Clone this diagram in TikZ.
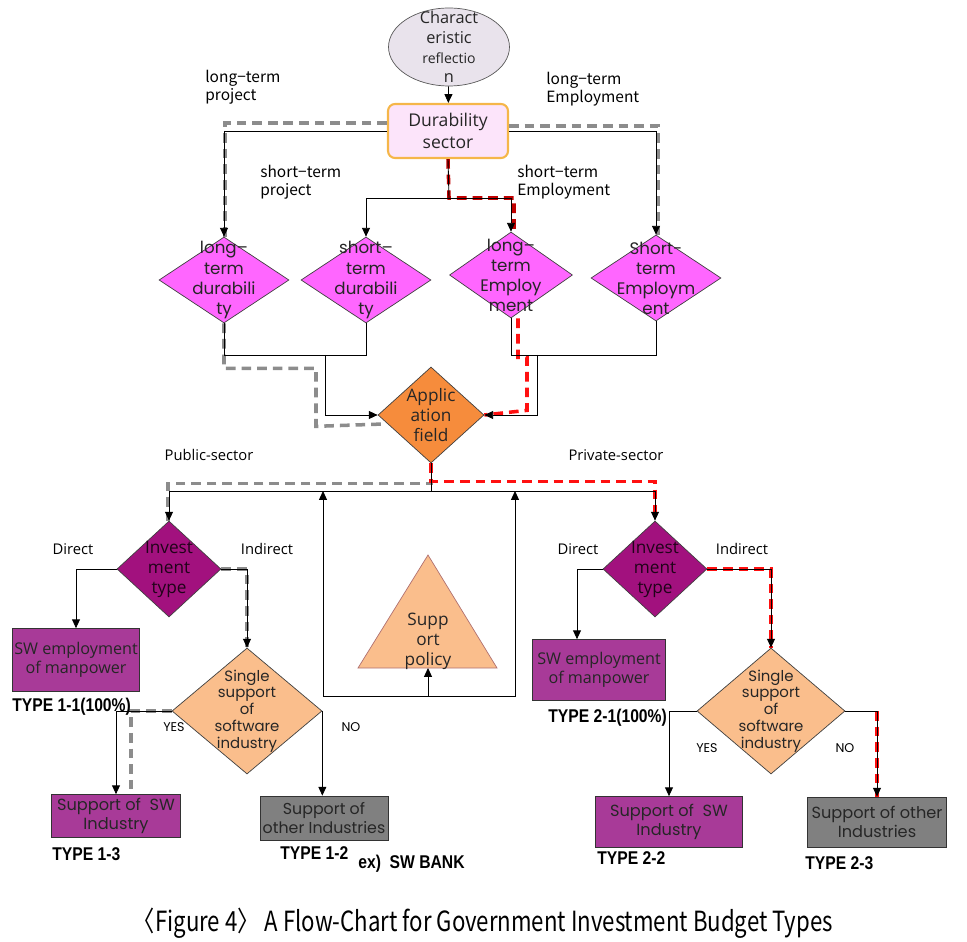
\documentclass[tikz,border=0pt]{standalone}
\usepackage{fontspec}
\setmainfont{Open Sans}
\newfontfamily\gothic{Poppins}
\newfontfamily\gulim{Noto Sans CJK KR}
\newfontfamily\typefont[FakeStretch=0.85]{Liberation Sans}
\newfontfamily\capfont[FakeStretch=0.8]{Noto Sans CJK KR}
\definecolor{charfill}{RGB}{233, 227, 236}
\definecolor{durfill}{RGB}{252, 228, 250}
\definecolor{durline}{RGB}{245, 182, 73}
\definecolor{magdia}{RGB}{255, 102, 255}
\definecolor{appfill}{RGB}{246, 140, 60}
\definecolor{invfill}{RGB}{162, 17, 126}
\definecolor{swfill}{RGB}{168, 58, 152}
\definecolor{ssfill}{RGB}{250, 190, 140}
\definecolor{polline}{RGB}{176, 112, 112}
\definecolor{othfill}{RGB}{128, 128, 128}
\definecolor{pathgray}{RGB}{140, 140, 140}
\definecolor{pathred}{RGB}{255, 16, 16}
\definecolor{darkred}{RGB}{192, 0, 0}
\usetikzlibrary{shapes.geometric, arrows.meta, positioning, calc}

\begin{document}
\begin{tikzpicture}[x=0.02cm, y=-0.02cm,
  arr/.style={-{Triangle[length=5pt,width=4.5pt]}, line width=0.5pt},
  plain/.style={line width=0.5pt},
  grayway/.style={draw=pathgray, line width=2pt, dash pattern=on 5.5pt off 3.4pt},
  redway/.style={draw=pathred, line width=2pt, dash pattern=on 5.5pt off 3.4pt},
  ddia/.style={diamond, draw=black!75, inner sep=0pt, minimum width=2.6cm, minimum height=1.72cm},
  dtext/.style={align=center, inner sep=0pt, text=black!85, font=\gothic\fontsize{9.5}{11.4}\selectfont},
  itext/.style={align=center, inner sep=0pt, text=black!85, font=\fontsize{9.8}{11.4}\selectfont},
  stext/.style={align=center, inner sep=0pt, text=black!85, font=\gothic\fontsize{8.5}{9.6}\selectfont},
  box/.style={rectangle, draw=black!80, inner sep=0pt, align=center, text=black!85},
  lbl/.style={anchor=west, inner sep=0pt, align=left, font=\gulim\fontsize{8.8}{10.5}\selectfont},
  side/.style={inner sep=0pt, font=\fontsize{8.4}{10}\selectfont},
  yn/.style={inner sep=0pt, font=\gothic\fontsize{7.2}{9}\selectfont},
  typelbl/.style={anchor=west, inner sep=0pt, font=\typefont\bfseries\fontsize{10.5}{12}\selectfont}
]
  \useasboundingbox (0,0) rectangle (967,942);

  % top of the chart
  \node[ellipse, draw=black!65, fill=charfill, minimum width=2.42cm, minimum height=1.56cm,
    label={[align=center, inner sep=0pt, text=black!85, font=\fontsize{9.3}{11.3}\selectfont]center:Charact\\eristic\\{\fontsize{8}{9}\selectfont reflectio}\\n}] (char) at (449,47) {};
  \node[box, rounded corners=4pt, draw=durline, line width=1.2pt, fill=durfill,
    minimum width=2.4cm, minimum height=1.08cm, font=\fontsize{10}{12.5}\selectfont] (dur) at (448,131) {Durability\\sector};

  \node[lbl] (ltp) at (205,87) {long−term\\project};
  \node[lbl] (lte) at (546,89) {long−term\\Employment};
  \node[lbl] (stp) at (260,182) {short−term\\project};
  \node[lbl] (ste) at (517,182) {short−term\\Employment};

  \node[ddia, fill=magdia, label={[dtext]center:long–\\term\\durabili\\ty}] (d1) at (224,280) {};
  \node[ddia, fill=magdia, label={[dtext]center:short–\\term\\durabili\\ty}] (d2) at (366,280) {};
  \node[ddia, fill=magdia, minimum width=2.46cm, label={[dtext]center:long–\\term\\Employ\\ment}] (d3) at (511,275) {};
  \node[ddia, fill=magdia, minimum width=2.6cm, label={[dtext]center:Short-\\term\\Employm\\ent}] (d4) at (656,278) {};

  \node[ddia, fill=appfill, minimum width=2.12cm, minimum height=1.92cm,
    label={[itext]center:Applic\\ation\\field}] (app) at (431,415) {};

  \coordinate (durfork) at (449,198);
  \coordinate (lmerge) at (325,355);
  \coordinate (rmerge) at (537,355);

  \draw[grayway] ($(dur.west)+(0,-8)$) -| ($(d1.north)+(1,0)$);
  \draw[grayway] ($(dur.east)+(0,-5)$) -| ($(d4.north)+(2,0)$);
  \draw[redway, draw=darkred] (dur.south) -- (durfork) -| ($(d3.north)+(3,0)$);
  \draw[grayway] (d1.south) -- ++(0,45) -| ++(92,58) -- ($(app.west)+(6,9)$);
  \draw[redway] ($(d3.south)+(7,0)$) -- ++(0,39) -| ++(9,53) -- (app.east);

  \draw[arr] (char) -- (dur);
  \draw[arr] (dur.west) -| (d1.north);
  \draw[arr] (dur.east) -| (d4.north);
  \draw[plain] (dur.south) -- (durfork);
  \draw[arr] (durfork) -| (d2.north);
  \draw[arr] (durfork) -| (d3.north);
  \draw[plain] (d1.south) -- (d1.south |- lmerge) -- (d2.south |- lmerge) -- (d2.south);
  \draw[arr] (lmerge) |- (app.west);
  \draw[plain] (d3.south) -- (d3.south |- rmerge) -- (d4.south |- rmerge) -- (d4.south);
  \draw[arr] (rmerge) |- (app.east);

  % public and private branches
  \node[side] (pub) at (209,455) {Public-sector};
  \node[side] (priv) at (616,455) {Private-sector};

  \node[ddia, fill=invfill, minimum width=2.08cm, minimum height=1.92cm,
    label={[itext, text=black!80!invfill]center:Invest\\ment\\type}] (invL) at (169,569) {};
  \node[ddia, fill=invfill, minimum width=2.08cm, minimum height=1.92cm,
    label={[itext, text=black!80!invfill]center:Invest\\ment\\type}] (invR) at (655,569) {};

  \filldraw[fill=ssfill, draw=polline] (428,555) -- (497,668) -- (358,668) -- cycle;
  \node[itext] (pol) at (428,641) {Supp\\ort\\policy};
  \coordinate (polbase) at (428,668);
  \coordinate (polfoot) at (428,696);
  \coordinate (split) at (431,491);
  \coordinate (pubup) at (323,491);
  \coordinate (privup) at (515,491);

  \draw[grayway] (app.south) -- ++(0,20) -| ($(invL.north)+(-1,0)$);
  \draw[redway] (app.south) -- ++(0,18) -| (invR.north);

  \draw[plain] (app.south) -- (split);
  \draw[arr] (split) -| (invL.north);
  \draw[arr] (split) -| (invR.north);
  \draw[arr] (polfoot) -- (polbase);
  \draw[arr] (polfoot) -| (pubup);
  \draw[arr] (polfoot) -| (privup);

  \node[side] (dirL) at (73,549) {Direct};
  \node[side] (indL) at (267,549) {Indirect};
  \node[side] (dirR) at (578,549) {Direct};
  \node[side] (indR) at (742,549) {Indirect};

  \node[box, fill=swfill, minimum width=2.54cm, minimum height=1.26cm,
    font=\fontsize{9.2}{11}\selectfont] (swL1) at (76,660) {SW employment\\of manpower};
  \node[box, fill=swfill, minimum width=2.66cm, minimum height=1.22cm,
    font=\fontsize{9.2}{11}\selectfont] (swR1) at (599,670) {SW employment\\of manpower};

  \node[ddia, fill=ssfill, minimum width=3cm, minimum height=2.52cm,
    label={[stext]center:Single\\support\\of\\software\\industry}] (ssL) at (247,711) {};
  \node[ddia, fill=ssfill, minimum width=2.96cm, minimum height=2.52cm,
    label={[stext]center:Single\\support\\of\\software\\industry}] (ssR) at (771,711) {};

  \node[box, fill=swfill, minimum width=2.58cm, minimum height=0.86cm,
    font=\gothic\fontsize{9.2}{10.8}\selectfont] (swL2) at (116,816) {Support of~~SW\\Industry};
  \node[box, fill=othfill, minimum width=2.56cm, minimum height=0.88cm,
    font=\gothic\fontsize{9}{10.8}\selectfont] (othL) at (324,818) {Support of\\other Industries};
  \node[box, fill=swfill, minimum width=2.94cm, minimum height=1.02cm,
    font=\gothic\fontsize{9.2}{10.8}\selectfont] (swR2) at (669,822) {Support of~~SW\\Industry};
  \node[box, fill=othfill, minimum width=2.78cm, minimum height=1cm,
    font=\gothic\fontsize{9.2}{10.8}\selectfont] (othR) at (877,822) {Support of other\\Industries};

  \draw[grayway] (invL.east) -| (ssL.north);
  \draw[redway] (invR.east) -| (ssR.north);
  \draw[grayway] (ssL.west) -| ($(swL2.north)+(15,0)$);
  \draw[redway] (ssR.east -| othR.north) -- (othR.north);

  \draw[arr] (invL.west) -| (swL1.north);
  \draw[arr] (invL.east) -| (ssL.north);
  \draw[arr] (invR.west) -| ($(swR1.north)+(-22,0)$);
  \draw[arr] (invR.east) -| (ssR.north);
  \draw[arr] (ssL.west) -| (swL2.north);
  \draw[arr] (ssL.east) -- (ssL.east |- othL.north);
  \draw[arr] (ssR.west) -| (swR2.north);
  \draw[arr] (ssR.east) -| (othR.north);

  \node[yn] (yesL) at (174,727) {YES};
  \node[yn] (noL) at (351,727) {NO};
  \node[yn] (yesR) at (707,748) {YES};
  \node[yn] (noR) at (845,748) {NO};

  \node[typelbl] (t11) at (12,707) {TYPE 1-1(100\%)};
  \node[typelbl] (t13) at (52,854) {TYPE 1-3};
  \node[typelbl] (t12) at (280,853) {TYPE 1-2};
  \node[typelbl] (bank) at (358,864) {ex)~~SW BANK};
  \node[typelbl] (t21) at (548,718) {TYPE 2-1(100\%)};
  \node[typelbl] (t22) at (597,858) {TYPE 2-2};
  \node[typelbl] (t23) at (805,863) {TYPE 2-3};

  \node[inner sep=0pt, font=\capfont\fontsize{15.8}{17}\selectfont] (cap) at (483,923)
    {〈Figure 4〉 A Flow-Chart for Government Investment Budget Types};
\end{tikzpicture}
\end{document}
